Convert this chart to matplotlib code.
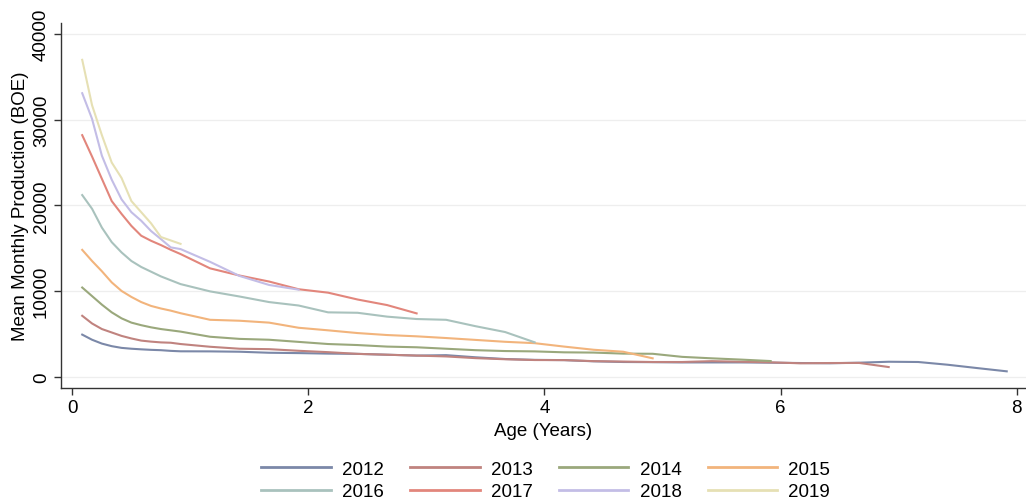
import matplotlib
matplotlib.use("Agg")
import matplotlib.pyplot as plt

plt.rcParams['font.family'] = ['Liberation Sans', 'DejaVu Sans']

# Age grid in months (monthly for first year, then quarterly)
MONTHS = [1, 2, 3, 4, 5, 6, 7, 8, 9, 10, 11,
          14, 17, 20, 23, 26, 29, 32, 35, 38, 41, 44, 47, 50, 53, 56, 59,
          62, 65, 68, 71, 74, 77, 80, 83, 86, 89, 92, 95]

years = ["2012", "2013", "2014", "2015", "2016", "2017", "2018", "2019"]

v2012 = [4900, 4300, 3850, 3550, 3350, 3250, 3180, 3120, 3080, 3000, 2950,
         2940, 2900, 2780, 2740, 2680, 2650, 2550, 2450, 2500, 2250, 2050, 1950,
         1920, 1780, 1700, 1680, 1650, 1650, 1650, 1620, 1580, 1550, 1620, 1730,
         1700, 1380, 990, 610]
v2013 = [7100, 6200, 5550, 5150, 4750, 4450, 4200, 4080, 3990, 3950, 3800,
         3480, 3250, 3200, 3010, 2850, 2650, 2550, 2450, 2350, 2150, 2020, 1930,
         1920, 1800, 1750, 1700, 1700, 1800, 1730, 1660, 1550, 1580, 1590, 1110]
v2014 = [10400, 9400, 8400, 7500, 6800, 6300, 6000, 5750, 5550, 5400, 5250,
         4650, 4400, 4300, 4050, 3800, 3680, 3500, 3420, 3250, 3080, 2980, 2940,
         2830, 2800, 2680, 2660, 2300, 2130, 1980, 1810]
v2015 = [14800, 13500, 12300, 11000, 10000, 9300, 8700, 8250, 7950, 7700, 7400,
         6630, 6520, 6300, 5700, 5400, 5080, 4850, 4700, 4500, 4280, 4060, 3900,
         3500, 3130, 2900, 2130]
v2016 = [21200, 19600, 17400, 15700, 14500, 13500, 12800, 12250, 11700, 11250, 10800,
         9950, 9350, 8700, 8300, 7500, 7450, 7000, 6720, 6630, 5880, 5200, 4000]
v2017 = [28200, 25700, 23100, 20500, 19000, 17600, 16450, 15860, 15360, 14810, 14310,
         12640, 11800, 11100, 10200, 9800, 9000, 8350, 7380]
v2018 = [33100, 30100, 25800, 23000, 20700, 19200, 18200, 17000, 16060, 15090, 14890,
         13400, 11750, 10700, 10150]
v2019 = [37000, 31700, 28200, 25000, 23200, 20500, 19200, 17900, 16300, 15900, 15500]

series = [v2012, v2013, v2014, v2015, v2016, v2017, v2018, v2019]
colors = ['#7b88a8', '#c0837f', '#9aa87c', '#f2b47c',
          '#a9c2bd', '#e2867c', '#c3bde6', '#e6e0b4']

yticks = [0, 10000, 20000, 30000, 40000]
xticks = [0, 2, 4, 6, 8]

FS = 13.5

fig = plt.figure(figsize=(10.26, 5.02), dpi=100)
ax = fig.add_axes([0.0595, 0.225, 0.9405, 0.727])

lines = {}
for name, vals, c in zip(years, series, colors):
    ages = [m / 12 for m in MONTHS[:len(vals)]]
    ln, = ax.plot(ages, vals, color=c, lw=1.5, label=name, solid_joinstyle='round')
    lines[name] = ln

ax.set_xlim(-0.096, 8.08)
ax.set_ylim(-1343, 41290)
ax.set_xticks(xticks)
ax.set_yticks(yticks)
ax.set_yticklabels([str(t) for t in yticks], rotation=90, va='center')
ax.tick_params(axis='both', labelsize=FS, length=5, width=1, color='#333333', direction='out')
ax.tick_params(axis='y', pad=3)
ax.tick_params(axis='x', pad=3)
ax.grid(axis='y', color='#eeeeee', lw=0.9)
ax.set_axisbelow(True)
for s in ['top', 'right']:
    ax.spines[s].set_visible(False)
for s in ['left', 'bottom']:
    ax.spines[s].set_color('#333333')
    ax.spines[s].set_linewidth(1.0)

ax.set_xlabel('Age (Years)', fontsize=FS, labelpad=4)
ax.set_ylabel('Mean Monthly Production (BOE)', fontsize=FS, labelpad=3)

# row-major legend: first row 2012-2015, second row 2016-2019
order = ["2012", "2016", "2013", "2017", "2014", "2018", "2015", "2019"]
leg = fig.legend([lines[k] for k in order], order, loc='center',
                 bbox_to_anchor=(0.532, 0.041), ncol=4, frameon=False,
                 fontsize=FS, handlelength=3.7, handletextpad=0.6,
                 columnspacing=1.4, labelspacing=0.3)
for line in leg.get_lines():
    line.set_linewidth(2)

fig.savefig('out.png', dpi=100)
